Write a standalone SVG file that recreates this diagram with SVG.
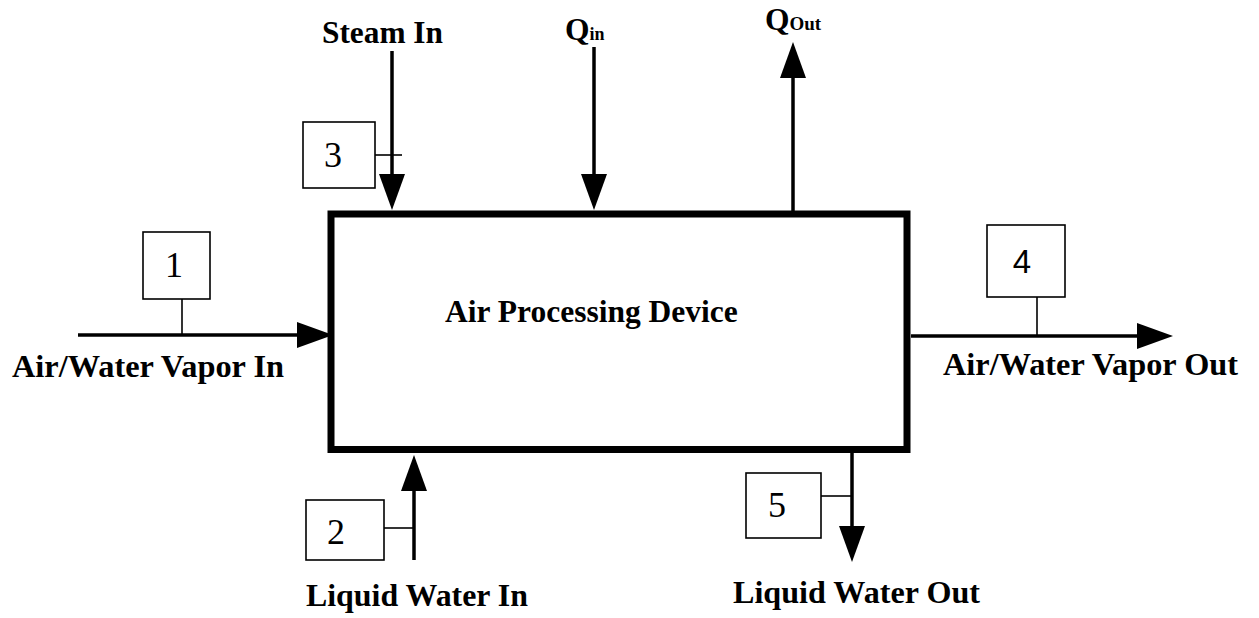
<svg xmlns="http://www.w3.org/2000/svg" width="1259" height="618" viewBox="0 0 1259 618">
<style>
.lbl{font-family:"Liberation Serif","Times New Roman",serif;font-weight:bold;font-size:31.5px;fill:#000}
.num{font-family:"Liberation Serif","Times New Roman",serif;font-size:36px;fill:#000;text-anchor:middle}
.box{fill:#fff;stroke:#000;stroke-width:1.6}
.tick{stroke:#000;stroke-width:1.6;fill:none}
.flow{stroke:#000;stroke-width:3.5;fill:none;marker-end:url(#ah)}
</style>
<defs>
<marker id="ah" viewBox="0 0 36 26" refX="16" refY="13" markerWidth="36" markerHeight="26" markerUnits="userSpaceOnUse" orient="auto">
<path d="M0,0 L36,13 L0,26 Z" fill="#000"/>
</marker>
</defs>
<rect width="1259" height="618" fill="#fff"/>
<g id="connectors">
<line class="flow" x1="392" y1="51" x2="392" y2="190"/>
<line class="flow" x1="594" y1="47" x2="594" y2="190"/>
<line class="flow" x1="793" y1="211" x2="793" y2="62"/>
<line class="flow" x1="78" y1="335" x2="313" y2="335"/>
<line class="flow" x1="911" y1="336" x2="1153" y2="336"/>
<line class="flow" x1="414" y1="560" x2="414" y2="475"/>
<line class="flow" x1="852" y1="453" x2="852" y2="542"/>
<line class="tick" x1="375" y1="155" x2="402" y2="155"/>
<line class="tick" x1="182" y1="299" x2="182" y2="335"/>
<line class="tick" x1="1037" y1="297" x2="1037" y2="336"/>
<line class="tick" x1="384" y1="528" x2="414" y2="528"/>
<line class="tick" x1="821" y1="496" x2="852" y2="496"/>
</g>
<g id="device">
<rect x="331" y="214" width="576" height="235.5" fill="none" stroke="#000" stroke-width="7"/>
<text class="lbl" x="445" y="322" font-size="33.5">Air Processing Device</text>
</g>
<g id="state1">
<rect class="box" x="143" y="232" width="67" height="67"/>
<text class="num" x="174" y="277">1</text>
</g>
<g id="state2">
<rect class="box" x="306" y="500" width="78" height="60"/>
<text class="num" x="336" y="544">2</text>
</g>
<g id="state3">
<rect class="box" x="303" y="122" width="72" height="66"/>
<text class="num" x="333" y="167">3</text>
</g>
<g id="state4">
<rect class="box" x="987" y="225" width="78" height="72"/>
<text x="1022" y="273" font-family="Liberation Sans, Arial, sans-serif" font-size="33" text-anchor="middle">4</text>
</g>
<g id="state5">
<rect class="box" x="746" y="473" width="75" height="65"/>
<text class="num" x="777" y="517">5</text>
</g>
<g id="labels">
<text class="lbl" x="322" y="43" textLength="121" lengthAdjust="spacingAndGlyphs">Steam In</text>
<text class="lbl" x="565" y="40" font-size="26">Q<tspan font-size="18">in</tspan></text>
<text class="lbl" x="765" y="30" font-size="27">Q<tspan font-size="19">Out</tspan></text>
<text class="lbl" x="12" y="377" textLength="272" lengthAdjust="spacingAndGlyphs">Air/Water Vapor In</text>
<text class="lbl" x="943" y="375" textLength="295" lengthAdjust="spacingAndGlyphs">Air/Water Vapor Out</text>
<text class="lbl" x="306" y="606" textLength="222" lengthAdjust="spacingAndGlyphs">Liquid Water In</text>
<text class="lbl" x="733" y="603" textLength="247" lengthAdjust="spacingAndGlyphs">Liquid Water Out</text>
</g>
</svg>
